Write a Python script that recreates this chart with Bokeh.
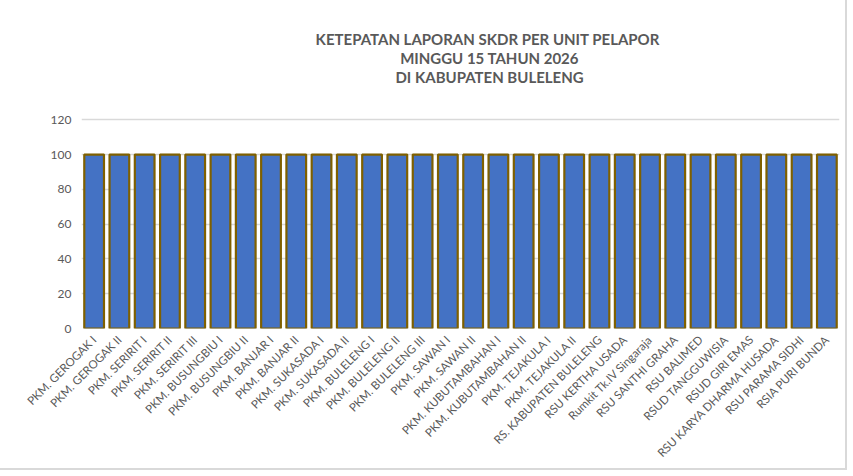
from bokeh.plotting import figure
from bokeh.models import Range1d, FixedTicker, Label, ColumnDataSource
from bokeh.embed import file_html
from bokeh.resources import INLINE
import math

units = [
    "PKM. GEROGAK I", "PKM. GEROGAK II", "PKM. SERIRIT I", "PKM. SERIRIT II",
    "PKM. SERIRIT III", "PKM. BUSUNGBIU I", "PKM. BUSUNGBIU II", "PKM. BANJAR I",
    "PKM. BANJAR II", "PKM. SUKASADA I", "PKM. SUKASADA II", "PKM. BULELENG I",
    "PKM. BULELENG II", "PKM. BULELENG III", "PKM. SAWAN I", "PKM. SAWAN II",
    "PKM. KUBUTAMBAHAN I", "PKM. KUBUTAMBAHAN II", "PKM. TEJAKULA I",
    "PKM. TEJAKULA II", "RS. KABUPATEN BULELENG", "RSU KERTHA USADA",
    "Rumkit Tk.IV Singaraja", "RSU SANTHI GRAHA", "RSU BALIMED",
    "RSUD TANGGUWISIA", "RSUD GIRI EMAS", "RSU KARYA DHARMA HUSADA",
    "RSU PARAMA SIDHI", "RSIA PURI BUNDA",
]
ketepatan = [100] * 30
y_ticks = [0, 20, 40, 60, 80, 100, 120]
title_lines = [
    "KETEPATAN  LAPORAN SKDR PER UNIT PELAPOR",
    "MINGGU 15 TAHUN 2026",
    "DI KABUPATEN BULELENG",
]

FONT = "Lato"
GREY = "#595959"

src = ColumnDataSource(dict(unit=units, val=ketepatan))

# the frame extends above 120 so the title lines can sit inside it;
# grid lines and tick labels are only drawn at 0..120
p = figure(
    x_range=units, width=845, height=468,
    output_backend="svg", toolbar_location=None,
    min_border_left=81, min_border_right=6,
    min_border_top=15, min_border_bottom=140,
)
p.styles = {"outline": "2px solid #d9d9d9"}
p.title = None
p.y_range = Range1d(0, 180)
p.outline_line_color = None
p.background_fill_color = "white"
p.border_fill_color = "white"

p.vbar(x="unit", top="val", width=0.78, source=src,
       fill_color="#4472C4", line_color="#7F6000", line_width=2.2)

p.xgrid.grid_line_color = None
p.ygrid.grid_line_color = "#d9d9d9"
p.ygrid.grid_line_width = 1.5
p.yaxis.ticker = FixedTicker(ticks=y_ticks)

for ax in (p.xaxis, p.yaxis):
    ax.axis_line_color = None
    ax.major_tick_line_color = None
    ax.minor_tick_line_color = None
    ax.major_label_text_color = GREY
    ax.major_label_text_font = FONT

p.yaxis.major_label_text_font_size = "12px"
p.yaxis.major_label_standoff = 4
p.xaxis.major_label_text_font_size = "11.5px"
p.xaxis.major_label_orientation = math.pi / 4
p.xaxis.major_label_standoff = 3

ys = [166.2, 155.8, 144.9]
for txt, yy in zip(title_lines, ys):
    p.add_layout(Label(x=16.15, y=yy, text=txt, text_align="center",
                       text_baseline="middle", text_font=FONT,
                       text_font_style="bold", text_font_size="15px",
                       text_color=GREY))

open("out.html", "w").write(file_html(p, INLINE))
